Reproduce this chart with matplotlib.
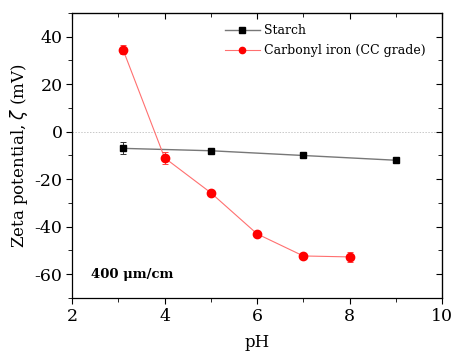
import matplotlib
matplotlib.use("Agg")
import matplotlib.pyplot as plt
from matplotlib.ticker import MultipleLocator
from matplotlib.lines import Line2D

starch_ph = [3.1, 5, 7, 9]
starch_zeta = [-7, -8, -10, -12]
starch_err = [2.5, 0.8, 0.8, 0.8]

iron_ph = [3.1, 4, 5, 6, 7, 8]
iron_zeta = [34.6, -11, -25.7, -43, -52.3, -52.7]
iron_err = [2, 2.5, 0.8, 0.8, 1.2, 2]

plt.rcParams['font.family'] = ['DejaVu Serif']
plt.rcParams['axes.unicode_minus'] = False
fig = plt.figure(figsize=(4.51, 3.51), dpi=100)
ax = fig.add_axes([0.16, 0.151, 0.82, 0.812])

ax.axhline(0, color='#c8c8c8', lw=0.7, ls=(0, (1.5, 1.5)), zorder=0)

ax.plot(starch_ph, starch_zeta, color='#777777', lw=1.0, zorder=1)
ax.errorbar(starch_ph, starch_zeta, yerr=starch_err, fmt='s', color='black', ms=5,
            ecolor='#333333', elinewidth=0.7, capsize=2, capthick=0.7, zorder=3)

ax.plot(iron_ph, iron_zeta, color='#ff7070', lw=0.8, zorder=2)
ax.errorbar(iron_ph, iron_zeta, yerr=iron_err, fmt='o', color='red', ms=6,
            ecolor='#ff4040', elinewidth=0.7, capsize=2, capthick=0.7, zorder=4)

ax.set_xlim(2, 10)
ax.set_ylim(-70, 50)
ax.xaxis.set_major_locator(MultipleLocator(2))
ax.xaxis.set_minor_locator(MultipleLocator(1))
ax.yaxis.set_major_locator(MultipleLocator(20))
ax.yaxis.set_minor_locator(MultipleLocator(10))
ax.tick_params(which='both', direction='out', labelsize=12.5, pad=3)
ax.tick_params(which='major', length=4)
ax.tick_params(which='minor', length=3)
for s in ax.spines.values():
    s.set_linewidth(0.9)

# mirrored inward ticks on top and right
axt = ax.secondary_xaxis('top')
axt.xaxis.set_major_locator(MultipleLocator(2))
axt.xaxis.set_minor_locator(MultipleLocator(1))
axt.tick_params(which='both', direction='in', labeltop=False)
axt.tick_params(which='major', length=4)
axt.tick_params(which='minor', length=3)
axr = ax.secondary_yaxis('right')
axr.yaxis.set_major_locator(MultipleLocator(20))
axr.yaxis.set_minor_locator(MultipleLocator(10))
axr.tick_params(which='both', direction='in', labelright=False)
axr.tick_params(which='major', length=4)
axr.tick_params(which='minor', length=3)

ax.set_xlabel('pH', fontsize=12, labelpad=7)
ax.set_ylabel('Zeta potential, $\\zeta$ (mV)', fontsize=12)
ax.yaxis.set_label_coords(-0.115, 0.5)
ax.text(2.4, -60, '400 μm/cm', fontsize=9.5, fontweight='bold', va='center')

handles = [
    Line2D([], [], color='#777777', lw=1.0, marker='s', mfc='black', mec='black', ms=4),
    Line2D([], [], color='#ff7070', lw=0.8, marker='o', mfc='red', mec='red', ms=4.5),
]
ax.legend(handles, ['Starch', 'Carbonyl iron (CC grade)'], loc='upper right',
          bbox_to_anchor=(0.985, 1.0), frameon=False, fontsize=9,
          handlelength=2.8, labelspacing=0.55, handletextpad=0.3, borderaxespad=0.5)

fig.savefig('out.png', dpi=100)
